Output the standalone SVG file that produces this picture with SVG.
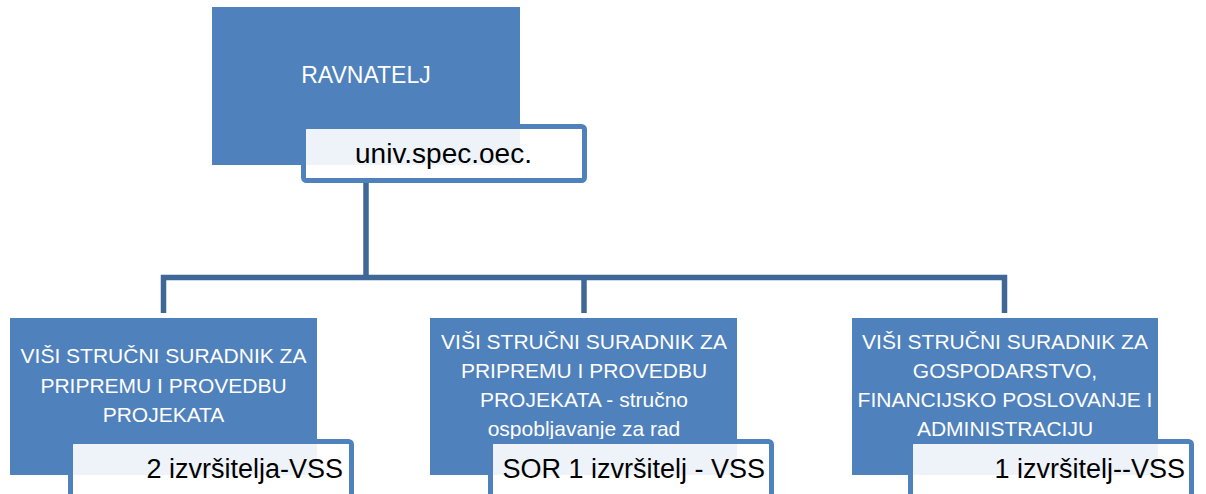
<svg xmlns="http://www.w3.org/2000/svg" width="1206" height="494" viewBox="0 0 1206 494">
<style>
.box{fill:#4f81bd;}
.sub{fill:#ffffff;fill-opacity:0.9;stroke:#4f81bd;stroke-width:5;}
.conn{fill:none;stroke:#3f6797;stroke-width:5.5;stroke-linejoin:miter;stroke-linecap:butt;}
.t{font-family:"Liberation Sans",Arial,sans-serif;fill:#ffffff;font-size:21px;text-anchor:middle;}
.s{font-family:"Liberation Sans",Arial,sans-serif;fill:#000000;font-size:27px;}
.big{font-size:23px;}
.univ{font-size:28px;text-anchor:middle;}
</style>
<rect width="1206" height="494" fill="#ffffff"/>
<g id="connectors">
<path class="conn" d="M366 181 V277.5"/>
<path class="conn" d="M163.5 313 V277.5 H1004.5 V313"/>
<path class="conn" d="M584 277.5 V313"/>
</g>
<g id="ravnatelj">
<rect class="box" x="212" y="7" width="308" height="158"/>
<text class="t big" x="366" y="83">RAVNATELJ</text>
<rect class="sub" x="303.5" y="126.5" width="281" height="54" rx="3"/>
<text class="s univ" x="443.5" y="163">univ.spec.oec.</text>
</g>
<g id="node-left">
<rect class="box" x="10" y="318" width="307" height="157"/>
<text class="t" x="163.5" y="363">VIŠI STRUČNI SURADNIK ZA</text>
<text class="t" x="163.5" y="393">PRIPREMU I PROVEDBU</text>
<text class="t" x="163.5" y="422">PROJEKATA</text>
<rect class="sub" x="70.5" y="441.5" width="281" height="56" rx="3"/>
<text class="s" x="343" y="478" text-anchor="end">2 izvršitelja-VSS</text>
</g>
<g id="node-middle">
<rect class="box" x="430" y="318" width="307" height="157"/>
<text class="t" x="584" y="349">VIŠI STRUČNI SURADNIK ZA</text>
<text class="t" x="584" y="378">PRIPREMU I PROVEDBU</text>
<text class="t" x="584" y="407">PROJEKATA - stručno</text>
<text class="t" x="584" y="436">ospobljavanje za rad</text>
<rect class="sub" x="490.5" y="441.5" width="281" height="56" rx="3"/>
<text class="s" x="765" y="478" text-anchor="end">SOR 1 izvršitelj - VSS</text>
</g>
<g id="node-right">
<rect class="box" x="852" y="318" width="306" height="157"/>
<text class="t" x="1005" y="349">VIŠI STRUČNI SURADNIK ZA</text>
<text class="t" x="1005" y="378">GOSPODARSTVO,</text>
<text class="t" x="1005" y="407">FINANCIJSKO POSLOVANJE I</text>
<text class="t" x="1005" y="436">ADMINISTRACIJU</text>
<rect class="sub" x="910.5" y="441.5" width="281" height="56" rx="3"/>
<text class="s" x="1185" y="478" text-anchor="end">1 izvršitelj--VSS</text>
</g>
</svg>
